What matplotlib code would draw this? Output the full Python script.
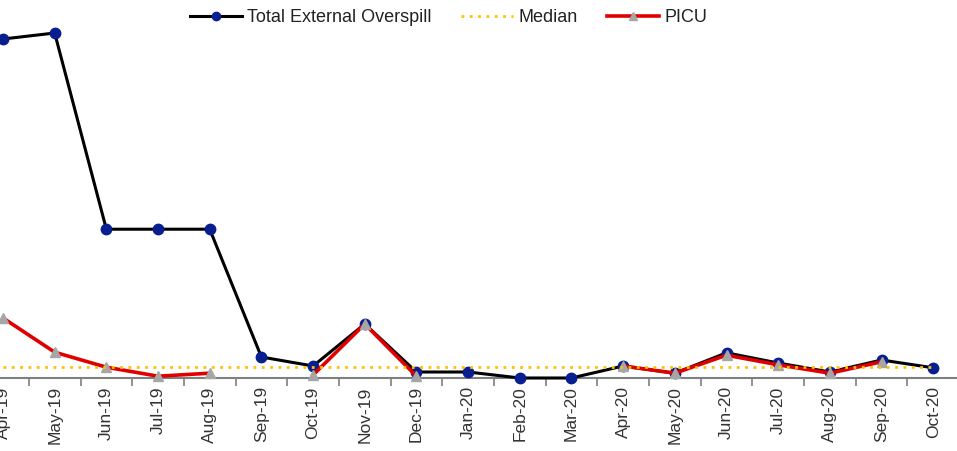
import numpy as np
import matplotlib
matplotlib.use("Agg")
import matplotlib.pyplot as plt
from matplotlib.ticker import FixedLocator

plt.rcParams['font.family'] = ['Liberation Sans', 'DejaVu Sans']

# データ
months = ["Apr-19", "May-19", "Jun-19", "Jul-19", "Aug-19", "Sep-19", "Oct-19",
          "Nov-19", "Dec-19", "Jan-20", "Feb-20", "Mar-20", "Apr-20", "May-20",
          "Jun-20", "Jul-20", "Aug-20", "Sep-20", "Oct-20"]
total_overspill = [56.5, 57.5, 24.8, 24.8, 24.8, 3.5, 2.0, 9.0, 1.0, 1.0, 0.0, 0.0,
                   2.0, 0.8, 4.2, 2.5, 1.0, 3.0, 1.7]
picu = [10.0, 4.3, 1.8, 0.3, 0.8, np.nan, 0.5, 9.0, 0.3, np.nan, np.nan, np.nan,
        2.0, 0.8, 3.8, 2.2, 0.8, 2.7, np.nan]
median_value = 1.8

x = np.arange(len(months))

# プロット領域
fig = plt.figure(figsize=(9.57, 4.51), dpi=100)
ax = fig.add_axes([0, 73 / 451, 1, 1 - 73 / 451])

ax.plot(x, total_overspill, color="black", lw=2.2, marker="o", ms=7.5,
        mfc="#0a1f8f", mec="#0a1f8f", label="Total External Overspill",
        clip_on=False, zorder=3)
ax.plot(x, [median_value] * len(x), color="#ffc000", lw=2, ls=(0, (1, 2)),
        label="Median", zorder=5)
ax.plot(x, picu, color="#e00000", lw=2.6, marker="^", ms=7.5,
        mfc="#a6a6a6", mec="#a6a6a6", label="PICU", clip_on=False, zorder=4)

# 範囲
ax.set_xlim(-0.058, 18.46)
ax.set_ylim(0, 63)

# 軸
for side in ["top", "right", "left"]:
    ax.spines[side].set_visible(False)
ax.spines["bottom"].set_color("#7f7f7f")
ax.spines["bottom"].set_linewidth(1.5)
ax.set_yticks([])
ax.set_xticks(x)
ax.set_xticklabels(months, rotation=90, fontsize=12.5, color="#333333")
ax.tick_params(axis="x", which="major", length=0, pad=6)
ax.xaxis.set_minor_locator(FixedLocator(np.arange(0.5, 18.5, 1)))
ax.tick_params(axis="x", which="minor", length=6, width=1.2, color="#7f7f7f")

# 凡例
fig.legend(loc="center", bbox_to_anchor=(448.5 / 957, 1 - 18 / 451), ncol=3,
           frameon=False, fontsize=13, handlelength=2.9, handletextpad=0.3,
           columnspacing=1.6, labelcolor="#222222", markerscale=0.8)

fig.savefig("out.png", dpi=100)
